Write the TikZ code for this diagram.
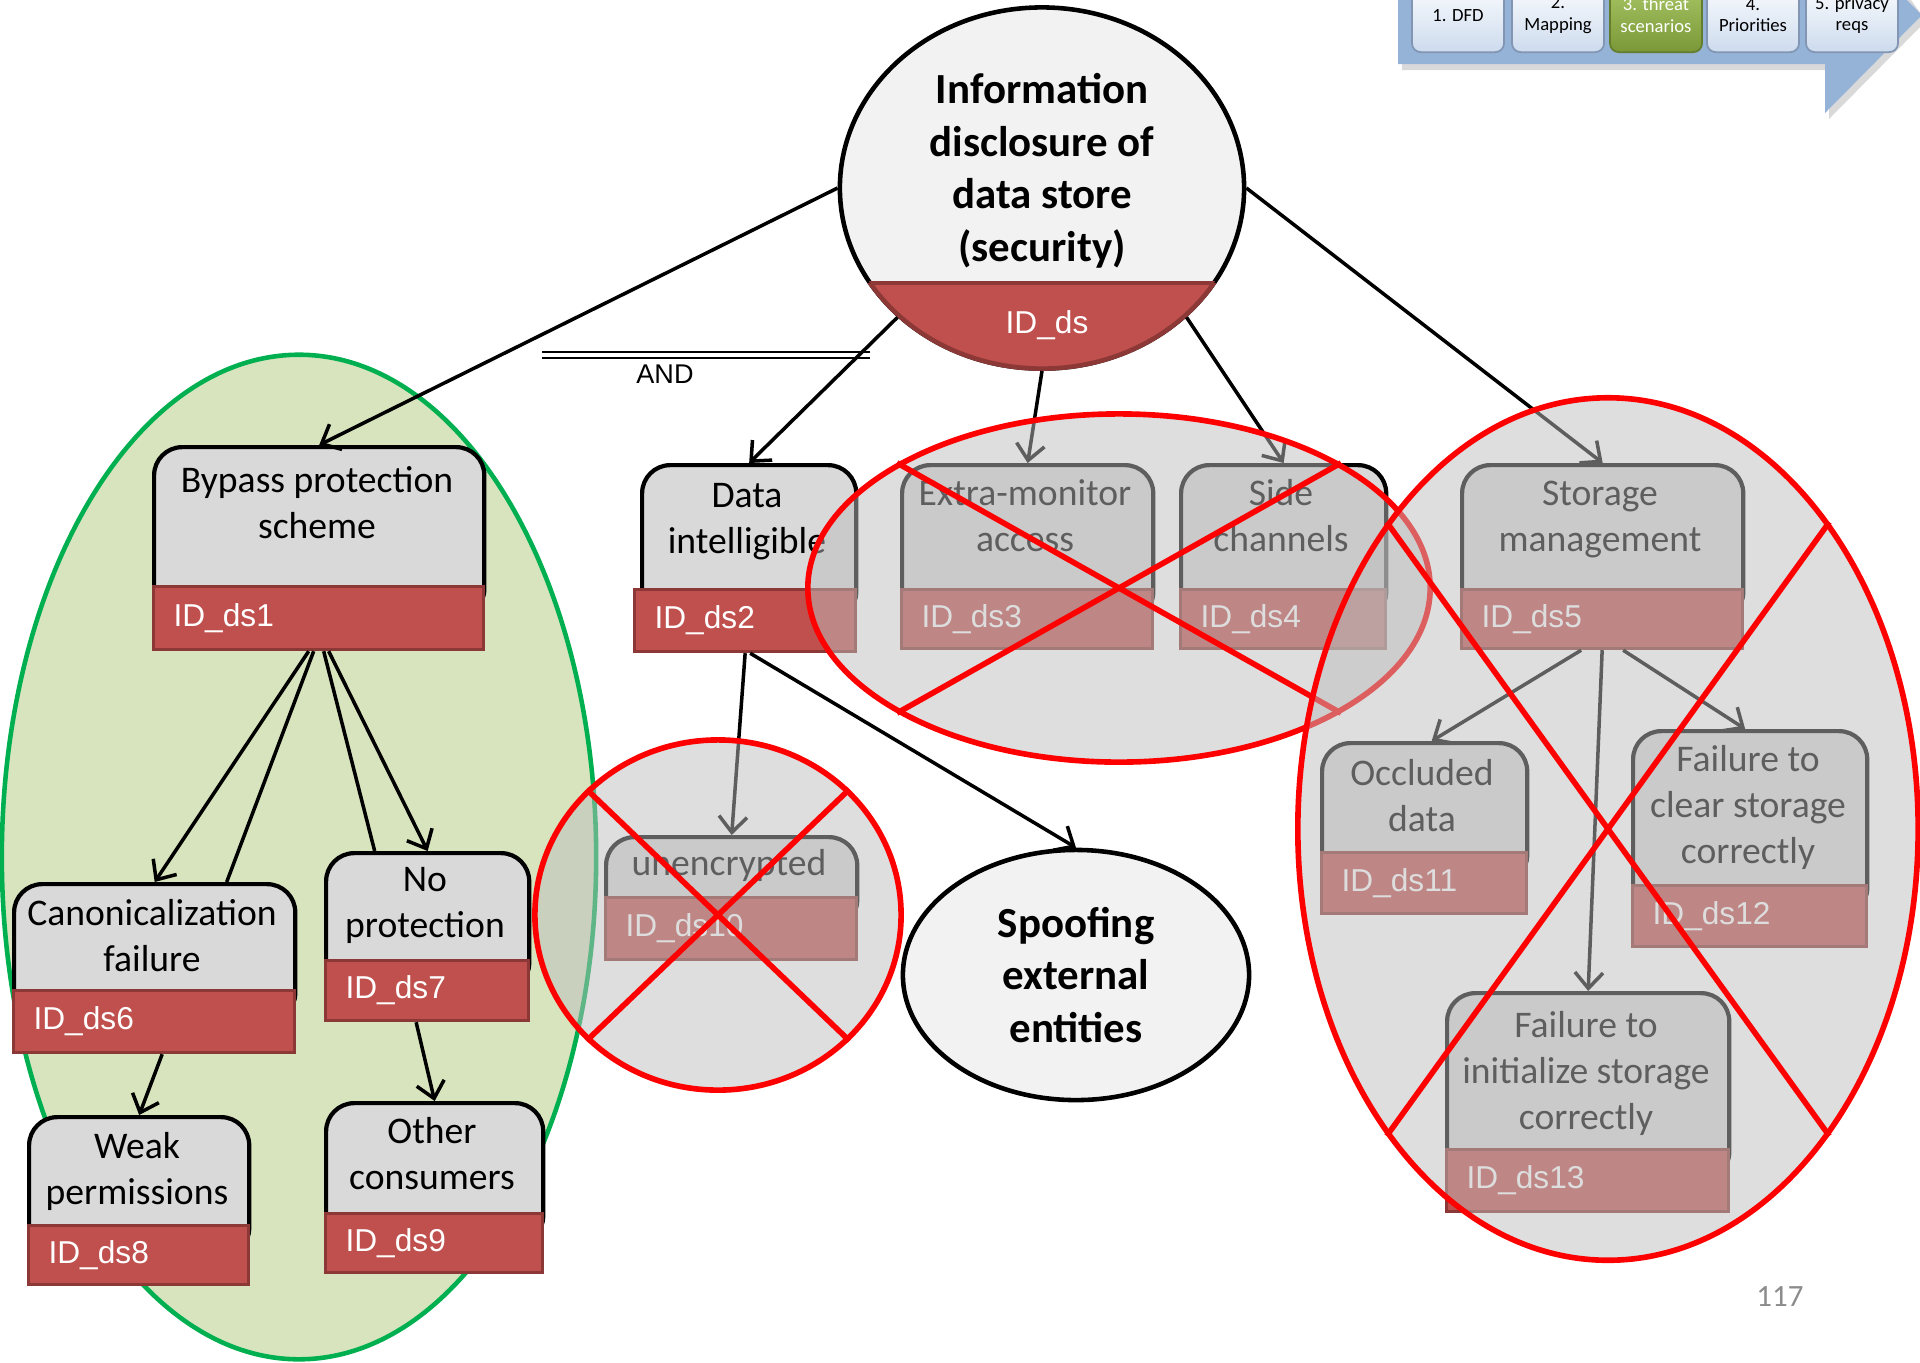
\documentclass[tikz,border=0pt]{standalone}
\usepackage{fontspec}
\setmainfont{Carlito}
\newfontfamily\arialfont{Liberation Sans}
\usetikzlibrary{positioning,calc,shapes.geometric,arrows.meta}
\definecolor{BoxGray}{RGB}{217,217,217}
\definecolor{IdRed}{RGB}{192,80,77}
\definecolor{IdEdge}{RGB}{140,56,54}
\definecolor{PaleGray}{RGB}{242,242,242}
\definecolor{LeafGreen}{RGB}{215,228,189}
\definecolor{RimGreen}{RGB}{0,176,80}
\definecolor{VeilGray}{RGB}{189,189,189}
\definecolor{BarBlue}{RGB}{149,179,215}
\definecolor{TabBlue}{RGB}{205,219,238}
\definecolor{TabEdge}{RGB}{130,150,180}
\definecolor{TabGreenTop}{RGB}{172,202,104}
\definecolor{TabGreen}{RGB}{122,152,56}
\definecolor{TabGreenEdge}{RGB}{100,125,45}
\definecolor{PageGray}{RGB}{140,140,140}
\newcommand\boxfont{\fontsize{10.7}{13.1}\selectfont}
\newcommand\goalfont{\bfseries\fontsize{12.2}{14.9}\selectfont}
\newcommand\idfont{\arialfont\fontsize{9}{10.8}\selectfont}
\newcommand\andfont{\arialfont\fontsize{7.7}{9}\selectfont}
\newcommand\tabfont{\fontsize{5.3}{6.2}\selectfont}
\tikzset{
  body/.style={draw=black,line width=1.2pt,fill=BoxGray,rounded corners=8pt,
    anchor=north west,inner sep=0pt},
  idbar/.style={draw=IdEdge,line width=0.9pt,fill=IdRed,anchor=north west,
    inner xsep=0.2cm,inner ysep=0pt,text=white,font=\idfont,align=left},
  boxtxt/.style={anchor=north,inner sep=0pt,align=center,font=\boxfont},
  goal/.style={ellipse,draw=black,line width=1.3pt,fill=PaleGray,inner sep=0pt},
  link/.style={line width=1pt},
  arr/.style={link,-{Straight Barb[length=4.5pt,width=8pt]}},
  veil/.style={ellipse,draw=red,line width=1.6pt,fill=VeilGray,fill opacity=0.5,inner sep=0pt},
  cross/.style={draw=red,line width=1.6pt},
  tab/.style={anchor=south,draw=TabEdge,line width=0.5pt,rounded corners=2.5pt,
    top color=white,bottom color=TabBlue,minimum width=0.92cm,minimum height=0.74cm,
    inner sep=0pt,align=center,font=\tabfont},
}

\begin{document}
\begin{tikzpicture}[x=0.01cm,y=-0.01cm]
\useasboundingbox (0,0) rectangle (1920,1362);
\clip (0,0) rectangle (1920,1362);

\fill[black,opacity=0.15] (1402,0) -- (1402,70) -- (1829,70) -- (1829,119) -- (1926,21) -- (1911,0) -- cycle;
\fill[BarBlue] (1398,0) -- (1398,64) -- (1825,64) -- (1825,113) -- (1922,15) -- (1907,0) -- cycle;
\node[tab] (s1) at (1458,53) {1. DFD};
\node[tab] (s2) at (1558,53) {2.\\Mapping};
\node[tab,top color=TabGreenTop,bottom color=TabGreen,draw=TabGreenEdge,text=white] (s3) at (1656,53) {3. threat\\scenarios};
\node[tab] (s4) at (1753,53) {4.\\Priorities};
\node[tab] (s5) at (1852,53) {5. privacy\\reqs};

\node[ellipse,draw=RimGreen,line width=1.3pt,fill=LeafGreen,minimum width=5.94cm,minimum height=10.04cm] (grp) at (299,857) {};

\node[goal,minimum width=4.04cm,minimum height=3.61cm] (root) at (1042,188) {};
\begin{scope}
  \clip (root.center) ellipse (2.02cm and 1.805cm);
  \fill[IdRed] (830,283) rectangle (1260,400);
  \draw[IdEdge,line width=0.9pt] (830,283) -- (1260,283);
\end{scope}
\begin{scope}
  \clip (830,283) rectangle (1260,400);
  \draw[IdEdge,line width=1.3pt] (root.center) ellipse (2.02cm and 1.805cm);
\end{scope}
\node[anchor=north,inner sep=0pt,align=center,font=\goalfont] (rtxt) at (1042,73) {Information\\disclosure of\\data store\\(security)};
\node[anchor=base,inner sep=0pt,text=white,font=\idfont] (rootid) at (1047,333) {ID\_ds};

\node[goal,minimum width=3.46cm,minimum height=2.5cm,align=center,font=\goalfont] (spoof) at (1076,975) {Spoofing\\external\\entities};

\node[body,minimum width=3.30cm,minimum height=1.70cm] (b1) at (152,445) {};
\node[boxtxt] (t1) at (317,466) {Bypass protection\\scheme};
\node[idbar,text width=2.90cm,minimum height=0.63cm] (d1) at (152,585) {ID\_ds1};

\node[body,minimum width=2.14cm,minimum height=1.55cm] (b2) at (640,463) {};
\node[boxtxt] (t2) at (747,483) {Data\\intelligible};
\node[idbar,text width=1.81cm,minimum height=0.62cm] (d2) at (633,588) {ID\_ds2};

\node[body,minimum width=2.51cm,minimum height=1.55cm] (b3) at (900,463) {};
\node[boxtxt] (t3) at (1025,479) {Extra-monitor\\access};
\node[idbar,text width=2.11cm,minimum height=0.59cm] (d3) at (900,588) {ID\_ds3};

\node[body,minimum width=2.05cm,minimum height=1.55cm] (b4) at (1179,463) {};
\node[boxtxt] (t4) at (1281,479) {Side\\channels};
\node[idbar,text width=1.65cm,minimum height=0.59cm] (d4) at (1179,588) {ID\_ds4};

\node[body,minimum width=2.81cm,minimum height=1.55cm] (b5) at (1460,463) {};
\node[boxtxt] (t5) at (1600,480) {Storage\\management};
\node[idbar,text width=2.41cm,minimum height=0.59cm] (d5) at (1460,588) {ID\_ds5};

\node[body,minimum width=2.81cm,minimum height=1.37cm] (b6) at (12,882) {};
\node[boxtxt] (t6) at (152,899) {Canonicalization\\failure};
\node[idbar,text width=2.41cm,minimum height=0.62cm] (d6) at (12,989) {ID\_ds6};

\node[body,minimum width=2.03cm,minimum height=1.38cm] (b7) at (324,851) {};
\node[boxtxt] (t7) at (425,867) {No\\protection};
\node[idbar,text width=1.63cm,minimum height=0.60cm] (d7) at (324,959) {ID\_ds7};

\node[body,minimum width=2.20cm,minimum height=1.39cm] (b8) at (27,1115) {};
\node[boxtxt] (t8) at (137,1132) {Weak\\permissions};
\node[idbar,text width=1.80cm,minimum height=0.59cm] (d8) at (27,1224) {ID\_ds8};

\node[body,minimum width=2.17cm,minimum height=1.41cm] (b9) at (324,1101) {};
\node[boxtxt] (t9) at (432,1117) {Other\\consumers};
\node[idbar,text width=1.77cm,minimum height=0.59cm] (d9) at (324,1212) {ID\_ds9};

\node[body,minimum width=2.51cm,minimum height=0.91cm] (b10) at (604,835) {};
\node[boxtxt] (t10) at (729,849) {unencrypted};
\node[idbar,text width=2.11cm,minimum height=0.62cm] (d10) at (604,896) {ID\_ds10};

\node[body,minimum width=2.05cm,minimum height=1.40cm] (b11) at (1320,741) {};
\node[boxtxt] (t11) at (1422,759) {Occluded\\data};
\node[idbar,text width=1.65cm,minimum height=0.61cm] (d11) at (1320,851) {ID\_ds11};

\node[body,minimum width=2.34cm,minimum height=1.85cm] (b12) at (1631,729) {};
\node[boxtxt] (t12) at (1748,745) {Failure to\\clear storage\\correctly};
\node[idbar,text width=1.94cm,minimum height=0.61cm] (d12) at (1631,884) {ID\_ds12};

\node[body,minimum width=2.82cm,minimum height=1.87cm] (b13) at (1445,991) {};
\node[boxtxt] (t13) at (1586,1011) {Failure to\\initialize storage\\correctly};
\node[idbar,text width=2.42cm,minimum height=0.62cm] (d13) at (1445,1148) {ID\_ds13};

\coordinate (and1) at (542,355);
\coordinate (and2) at (870,355);
\draw[double,double distance=0.9pt,line width=0.6pt] (and1) -- (and2);
\node[anchor=base,inner sep=0pt,font=\andfont] (andtxt) at (665,383) {AND};

\draw[arr] (root.west) -- (b1.north);
\draw[arr] (root.south west) -- (b2.north);
\draw[arr] (root.south) -- (b3.north);
\draw[arr] (root.south east) -- (b4.north);
\draw[arr] (root.east) -- (b5.north);
\draw[arr] ($(d1.south)+(-10,0)$) -- (b6.north);
\draw[link] ($(d1.south)+(-5,0)$) -- ($(b6.north)+(72,0)$);
\draw[link] ($(d1.south)+(5,0)$) -- ($(b7.north)+(-53,0)$);
\draw[arr] ($(d1.south)+(10,0)$) -- (b7.north);
\draw[arr] ($(d6.south)+(8,0)$) -- (b8.north);
\draw[arr] ($(d7.south)+(-11,0)$) -- (b9.north);
\draw[arr] (d2.south) -- (b10.north);
\draw[arr] ($(d2.south)+(5,0)$) -- (spoof.north);
\draw[arr] ($(d5.south)+(-21,0)$) -- ($(b11.north)+(7,0)$);
\draw[arr] (d5.south) -- (b13.north);
\draw[arr] ($(d5.south)+(21,0)$) -- ($(b12.north)+(-5,0)$);

\node[veil,minimum width=6.22cm,minimum height=3.48cm] (ov1) at (1119,588) {};
\draw[cross] (ov1.north west) -- (ov1.south east);
\draw[cross] (ov1.south west) -- (ov1.north east);
\node[veil,minimum width=3.66cm,minimum height=3.5cm] (ov2) at (718,915) {};
\draw[cross] (ov2.north west) -- (ov2.south east);
\draw[cross] (ov2.south west) -- (ov2.north east);
\node[veil,minimum width=6.2cm,minimum height=8.62cm] (ov3) at (1608,829) {};
\draw[cross] (ov3.north west) -- (ov3.south east);
\draw[cross] (ov3.south west) -- (ov3.north east);

\node[anchor=base,inner sep=0pt,text=PageGray,font=\fontsize{8.8}{10}\selectfont] (pnum) at (1780,1306) {117};
\end{tikzpicture}
\end{document}
